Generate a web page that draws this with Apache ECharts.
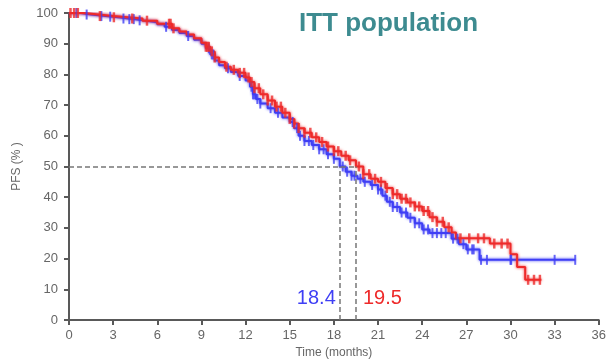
<!DOCTYPE html>
<html>
<head>
<meta charset="utf-8">
<script src="https://cdn.jsdelivr.net/npm/echarts@6/dist/echarts.min.js"></script>
<style>
  html, body { margin: 0; padding: 0; background: #fff; }
  #pfsChart { width: 609px; height: 364px; }
</style>
</head>
<body>
<div id="pfsChart"></div>
<script>
// Kaplan-Meier steps (time in months, PFS %)
const blueTime = [0, 0.8, 1.5, 2.5, 3, 3.5, 4, 4.5, 5, 5.5, 6, 6.5, 7, 7.5, 8, 8.5, 9, 9.3, 9.6, 9.9, 10.2, 10.6, 11, 11.5, 12, 12.3, 12.5, 12.7, 13, 13.5, 14, 14.5, 15, 15.3, 15.6, 16, 16.5, 17, 17.5, 18, 18.4, 18.8, 19.2, 19.6, 20, 20.5, 21, 21.3, 21.6, 22, 22.5, 23, 23.5, 24, 24.5, 26, 26.5, 27, 27.9, 34.4];
const blueSurv = [100, 99.5, 99, 98.8, 98.5, 98.2, 98, 97.6, 97.3, 97, 96.3, 95.5, 94.5, 93.5, 92.5, 91.3, 90, 88.5, 86.5, 84.5, 83, 82, 80.8, 79.5, 78, 76, 73.5, 72, 70.5, 69, 67.5, 66, 64.5, 62.5, 60, 58.3, 57, 55.6, 54, 52.5, 50, 48.3, 47, 46, 45, 44, 42.5, 40.5, 38.5, 36.8, 35, 33.3, 31.5, 29.5, 28.3, 26.5, 24.7, 23, 19.6, 19.6];
const blueCensor = [0.5, 1.2, 2.2, 2.8, 3.7, 4.1, 4.4, 4.8, 6.6, 8.1, 9.5, 9.7, 9.8, 10.8, 11.6, 12.4, 12.5, 12.6, 12.8, 13, 13.7, 14.2, 15.2, 15.5, 15.7, 16, 16.3, 16.6, 17, 17.3, 17.6, 18, 18.6, 18.9, 19.2, 19.4, 19.8, 20.1, 20.6, 21, 21.2, 21.5, 21.8, 22, 22.3, 22.6, 22.9, 23.2, 23.5, 23.8, 24.1, 24.4, 24.7, 25, 25.3, 25.6, 26.1, 26.4, 26.8, 27.1, 27.4, 27.5, 28, 28.4, 30, 30.05, 33, 34.4];

const redTime = [0, 1, 2, 3, 4, 5, 6, 7, 7.5, 8, 8.5, 9, 9.3, 9.6, 9.9, 10.2, 10.6, 11, 11.5, 12, 12.3, 12.6, 13, 13.5, 14, 14.5, 15, 15.3, 15.6, 16, 16.5, 17, 17.5, 18, 18.5, 19, 19.5, 20, 20.5, 21, 21.5, 22, 22.5, 23, 23.5, 24, 24.5, 25, 25.5, 26, 26.3, 28.6, 30, 30.45, 31, 32.1];
const redSurv = [100, 99.5, 99, 98.6, 98.2, 97.5, 96.5, 95, 94, 93, 91.8, 90.3, 89, 87.5, 85.5, 84, 82.5, 81.5, 80.5, 79, 77.5, 75.5, 73.5, 71.5, 69.5, 67.5, 65.5, 64, 62.5, 61, 59.5, 58, 56.5, 55, 53.5, 52, 50, 47.5, 46, 45, 43, 41, 39.5, 38.3, 37, 35.5, 33.5, 32, 30.2, 28.5, 26.6, 24.9, 21.4, 17.3, 13.1, 13.1];
const redCensor = [0.1, 0.35, 0.6, 2.1, 3.05, 4.3, 5.3, 6.8, 6.9, 7.1, 9.3, 9.4, 9.5, 9.7, 9.9, 10.7, 11.2, 11.6, 11.9, 12.2, 12.4, 12.6, 12.9, 13.2, 13.5, 13.8, 14.1, 14.4, 14.7, 15, 15.3, 15.6, 16, 16.4, 16.8, 17.2, 17.6, 18, 18.3, 18.8, 19.1, 19.7, 20, 20.4, 20.8, 21.2, 21.6, 22, 22.3, 22.6, 22.9, 23.2, 23.5, 23.8, 24.1, 24.4, 24.7, 25, 25.4, 25.8, 26.6, 27.2, 27.8, 28.2, 28.9, 29.4, 29.8, 31.2, 31.6, 32];

const medianBlue = 18.4;
const medianRed = 19.5;
const xTicks = { min: 0, max: 36, interval: 3 };
const yTicks = { min: 0, max: 100, interval: 10 };

const BLUE = '#3f3ff5';
const RED = '#ee2a2a';
const AXIS = '#595959';
const FONT = 'Liberation Sans';

function survAt(times, surv, t) {
  let v = surv[0];
  for (let i = 0; i < times.length; i++) {
    if (times[i] <= t) v = surv[i];
  }
  return v;
}

function stepSeries(name, times, surv, color) {
  return {
    name: name,
    type: 'line',
    step: 'end',
    symbol: 'none',
    data: times.map((t, i) => [t, surv[i]]),
    lineStyle: { color: color, width: 2, shadowColor: color, shadowBlur: 3 },
    z: 3
  };
}

function censorSeries(name, times, surv, censor, color, w) {
  return {
    name: name,
    type: 'scatter',
    symbol: 'rect',
    symbolSize: [w, 10],
    itemStyle: { color: color },
    data: censor.map((t) => [t, survAt(times, surv, t)]),
    z: 4
  };
}

const chart = echarts.init(document.getElementById('pfsChart'));
const option = {
  animation: false,
  title: {
    text: 'ITT population',
    left: 294,
    top: 6,
    textStyle: { color: '#3d8b90', fontSize: 26, fontWeight: 'bold', fontFamily: FONT }
  },
  grid: { left: 69, right: 8, top: 13, bottom: 43 },
  xAxis: {
    type: 'value',
    min: xTicks.min,
    max: xTicks.max,
    interval: xTicks.interval,
    name: 'Time (months)',
    nameLocation: 'middle',
    nameGap: 27,
    nameTextStyle: { color: '#666', fontSize: 12, fontFamily: FONT },
    axisLine: { lineStyle: { color: AXIS, width: 2 } },
    axisTick: { length: 5, lineStyle: { color: AXIS, width: 2 } },
    axisLabel: { color: '#666', fontSize: 13, fontFamily: FONT, margin: 9 },
    splitLine: { show: false }
  },
  yAxis: {
    type: 'value',
    min: yTicks.min,
    max: yTicks.max,
    interval: yTicks.interval,
    name: 'PFS (% )',
    nameLocation: 'middle',
    nameGap: 46,
    nameTextStyle: { color: '#666', fontSize: 12, fontFamily: FONT },
    axisLine: { show: true, lineStyle: { color: AXIS, width: 2 } },
    axisTick: { show: true, length: 5, lineStyle: { color: AXIS, width: 2 } },
    axisLabel: { color: '#666', fontSize: 13, fontFamily: FONT, margin: 11 },
    splitLine: { show: false }
  },
  series: [
    stepSeries('blue', blueTime, blueSurv, BLUE),
    censorSeries('blueCensor', blueTime, blueSurv, blueCensor, BLUE, 2),
    stepSeries('red', redTime, redSurv, RED),
    censorSeries('redCensor', redTime, redSurv, redCensor, RED, 2.5),
    {
      name: 'median',
      type: 'line',
      data: [],
      markLine: {
        silent: true,
        symbol: 'none',
        label: { show: false },
        lineStyle: { color: '#777', type: [5, 3], width: 1.5 },
        data: [
          [{ coord: [0, 50] }, { coord: [medianRed, 50] }],
          [{ coord: [medianBlue, 0] }, { coord: [medianBlue, 50] }],
          [{ coord: [medianRed, 0] }, { coord: [medianRed, 50] }]
        ]
      },
      markPoint: {
        silent: true,
        symbolSize: 0,
        data: [
          {
            coord: [medianBlue, 7],
            label: { show: true, position: 'left', distance: 4, formatter: String(medianBlue), color: BLUE, fontSize: 20, fontFamily: FONT }
          },
          {
            coord: [medianRed, 7],
            label: { show: true, position: 'right', distance: 7, formatter: String(medianRed), color: RED, fontSize: 20, fontFamily: FONT }
          }
        ]
      },
      z: 2
    }
  ]
};
chart.setOption(option);
</script>
</body>
</html>
